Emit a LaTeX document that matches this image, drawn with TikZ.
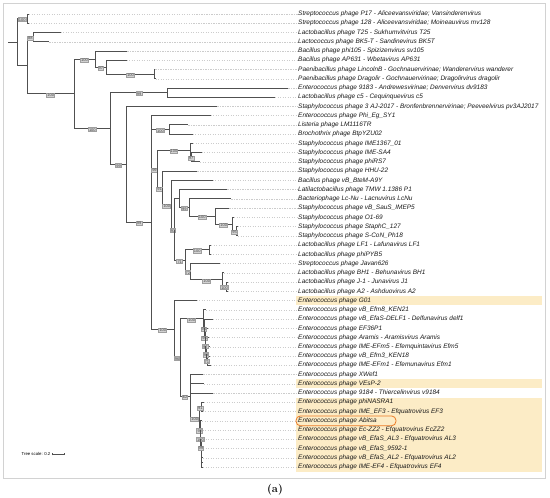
\documentclass[tikz,border=0pt]{standalone}
\usepackage{fontspec}
\setsansfont{Liberation Sans}
\usepackage{tikz}
\usetikzlibrary{positioning, arrows.meta, backgrounds}
\definecolor{hlyel}{RGB}{252,236,198}
\definecolor{brgray}{RGB}{80,80,80}
\definecolor{abitor}{RGB}{236,122,36}
\tikzset{brch/.style={draw=brgray, line width=0.9pt},
bsv/.style={pos=0.75, yshift=-1.2pt, draw=gray!75, fill=gray!35, text=black!70, inner sep=0.6pt, font=\sffamily\fontsize{4}{4.2}\selectfont},
leaflab/.style={anchor=west, inner sep=0.5pt, font=\sffamily\itshape\fontsize{6.45}{7.5}\selectfont, text=black!90},
guide/.style={draw=gray!40, line width=0.4pt, dash pattern=on 1.2pt off 1.3pt},
frame/.style={draw=gray!35, line width=0.9pt},
abitbox/.style={draw=abitor, line width=0.8pt, rounded corners=4.5pt}}

\begin{document}
\begin{tikzpicture}[x=1pt, y=-1pt]
  \useasboundingbox (0,0) rectangle (550,498);
  % cadre et surlignage
  \draw[frame] (3,3) rectangle (545,478);
  \fill[hlyel] (295.5,296.2) rectangle (542,305.0);
  \fill[hlyel] (295.5,379.4) rectangle (542,388.2);
  \fill[hlyel] (295.5,397.9) rectangle (542,471.5);
  % feuilles
  \foreach \x [count=\i] in {29,28.5,60.7,49.3,127.3,126.7,155.3,155.6,288.3,275,
    217.3,210.7,188.3,192.7,193,201.7,200,197.3,212.7,227.3,
    231.3,229.3,234,237.5,238,211,210.5,220,224,228,
    228,196.7,206,213,208,209,210,210,211,203.3,
    204,213.3,204,202.5,202,202.5,203,203,203,203}
    \coordinate (t\i) at (\x,{14+(\i-1)*9.245});
  % noeuds internes
  \foreach \n/\x/\y in {r0/8/42.0, n1/17/42.0, c12/27.3/18.6, n2/27.3/65.45, c34/33.3/37.1,
    n3/74/93.8, c58/95/59.1, c68/106.7/67.15, c78/154.3/74.1, n4/110.7/128.5,
    c910/167.7/92.6, n5/126.7/164.45, n6/151.7/222.4, c1314/169.3/129.55,
    pp/157.3/169.2, aa/190.7/150.35, bb/191.7/157.3, oo/162/188.1, nn/171.7/205.0,
    mm/174.5/229.65, gg/179.3/198.6, dd/189.3/207.55, ee/215/216.2, ff/232.3/224.3,
    ww/236.7/231.25, ll/185/260.7, kk/209.3/249.75, jj/190.7/271.7, hh/222.7/279.8,
    ii/226.5/286.7, qq/174/329.1, rr/180/357.65, z1/203.3/318.9, z2/204.3/328.05,
    z3/205.0/337.0, z4/205.7/345.7, z5/206.5/353.75, z6/207.3/360.7, ss/190/396.4,
    tt/199.3/418.3, uu/201.3/406.9, v1/200.2/429.75, v2/200.7/438.7, v3/201.1/447.4,
    v4/201.5/455.45, v5/201.8/462.4}
    \coordinate (\n) at (\x,\y);
  % etiquettes
  \foreach \lab [count=\i] in {
    {Streptococcus phage P17 - Aliceevansviridae; Vansinderenvirus},
    {Streptococcus phage 128 - Aliceevansviridae; Moineauvirus mv128},
    {Lactobacillus phage T25 - Sukhumvitvirus T25},
    {Lactococcus phage BK5-T - Sandinevirus BK5T},
    {Bacillus phage phi105 - Spizizenvirus sv105},
    {Bacillus phage AP631 - Wbetavirus AP631},
    {Paenibacillus phage LincolnB - Gochnauervirinae; Wanderervirus wanderer},
    {Paenibacillus phage Dragolir - Gochnauervirinae; Dragolirvirus dragolir},
    {Enterococcus phage 9183 - Andrewesvirinae; Denvervirus dv9183},
    {Lactobacillus phage c5 - Cequinquevirus c5},
    {Staphylococcus phage 3 AJ-2017 - Bronfenbrennervirinae; Peeveelvirus pv3AJ2017},
    {Enterococcus phage Phi\_Eg\_SY1},
    {Listeria phage LM1116TR},
    {Brochothrix phage BtpYZU02},
    {Staphylococcus phage IME1367\_01},
    {Staphylococcus phage IME-SA4},
    {Staphylococcus phage phiRS7},
    {Staphylococcus phage HHU-22},
    {Bacillus phage vB\_BteM-A9Y},
    {Latilactobacillus phage TMW 1.1386 P1},
    {Bacteriophage Lc-Nu - Lacnuvirus LcNu},
    {Staphylococcus phage vB\_SauS\_IMEP5},
    {Staphylococcus phage O1-69},
    {Staphylococcus phage StaphC\_127},
    {Staphylococcus phage S-CoN\_Ph18},
    {Lactobacillus phage LF1 - Lafunavirus LF1},
    {Lactobacillus phage phiPYB5},
    {Streptococcus phage Javan626},
    {Lactobacillus phage BH1 - Behunavirus BH1},
    {Lactobacillus phage J-1 - Junavirus J1},
    {Lactobacillus phage A2 - Ashduovirus A2},
    {Enterococcus phage G01},
    {Enterococcus phage vB\_Efm8\_KEN21},
    {Enterococcus phage vB\_EfaS-DELF1 - Delfunavirus delf1},
    {Enterococcus phage EF36P1},
    {Enterococcus phage Aramis - Aramisvirus Aramis},
    {Enterococcus phage IME-EFm5 - Efemquintavirus Efm5},
    {Enterococcus phage vB\_Efm3\_KEN18},
    {Enterococcus phage IME-EFm1 - Efemunavirus Efm1},
    {Enterococcus phage XWef1},
    {Enterococcus phage VEsP-2},
    {Enterococcus phage 9184 - Thiercelinvirus v9184},
    {Enterococcus phage phiNASRA1},
    {Enterococcus phage IME\_EF3 - Efquatrovirus EF3},
    {Enterococcus phage Abitsa},
    {Enterococcus phage Ec-ZZ2 - Efquatrovirus EcZZ2},
    {Enterococcus phage vB\_EfaS\_AL3 - Efquatrovirus AL3},
    {Enterococcus phage vB\_EfaS\_9592-1},
    {Enterococcus phage vB\_EfaS\_AL2 - Efquatrovirus AL2},
    {Enterococcus phage IME-EF4 - Efquatrovirus EF4}}
    \node[leaflab] (l\i) at (297.5,{14+(\i-1)*9.245}) {\lab};
  \foreach \i in {1,...,50} \draw[guide] (t\i) -- (l\i.west);
  \draw[abitbox] (296,415.9) rectangle (396,425.8);
  % branches
  \draw[brch] (r0) -- (n1);
  \foreach \p/\c in {c12/t1, c12/t2, n1/n2, c34/t3, c34/t4, c58/t5, c68/t6, c78/t7, c78/t8,
    c910/t9, c910/t10, n5/t11, n6/t12, c1314/t13, c1314/t14, aa/t15, bb/t16, bb/t17,
    oo/t18, nn/t19, mm/gg, gg/t20, dd/t21, ee/t22, ff/t23, ww/t24, ww/t25, kk/t26, kk/t27,
    jj/t28, hh/t29, ii/t30, ii/t31, qq/t32, z1/t33, z2/t34, z3/t35, z4/t36, z5/t37,
    z6/t38, z6/t39, ss/t40, ss/t41, ss/t42, uu/t43, uu/t44, v1/t45, v2/t46, v3/t47,
    v4/t48, v4/v5, v3/v4, v5/t49, v5/t50}
    \draw[brch] (\p) |- (\c);
  \foreach \p/\c/\v in {n1/c12/100, n2/c34/88, n2/n3/100, n3/c58/100, c58/c68/97, c68/c78/100,
    n3/n4/100, n4/c910/99, n4/n5/99, n5/n6/99, n6/c1314/100, n6/pp/99, pp/aa/100, aa/bb/97,
    pp/oo/91, oo/nn/100, nn/mm/93, gg/dd/99, dd/ee/100, ee/ff/100, ff/ww/95, mm/ll/71,
    ll/kk/100, ll/jj/72, jj/hh/100, hh/ii/100, n6/qq/100, qq/rr/96, rr/z1/100, z1/z2/95,
    z2/z3/96, z3/z4/97, z4/z5/99, z5/z6/71, rr/ss/62, ss/tt/100, tt/uu/91, tt/v1/92,
    v1/v2/100, v2/v3/99}
    \draw[brch] (\p) |- node[bsv] {\v} (\c);
  % echelle
  \node[font=\sffamily\fontsize{4.3}{5}\selectfont, anchor=east, inner sep=0.5pt] (ts) at (51,454.3) {Tree scale: 0.2};
  \coordinate[right=1pt of ts.east] (sb1);
  \coordinate[right=12pt of sb1] (sb2);
  \draw[brgray, line width=0.4pt, {Bar[width=2pt]}-{Bar[width=2pt]}] (sb1) -- (sb2);
  \node[font=\bfseries\fontsize{11}{12}\selectfont] (cap) at (275,490) {(a)};
\end{tikzpicture}
\end{document}
